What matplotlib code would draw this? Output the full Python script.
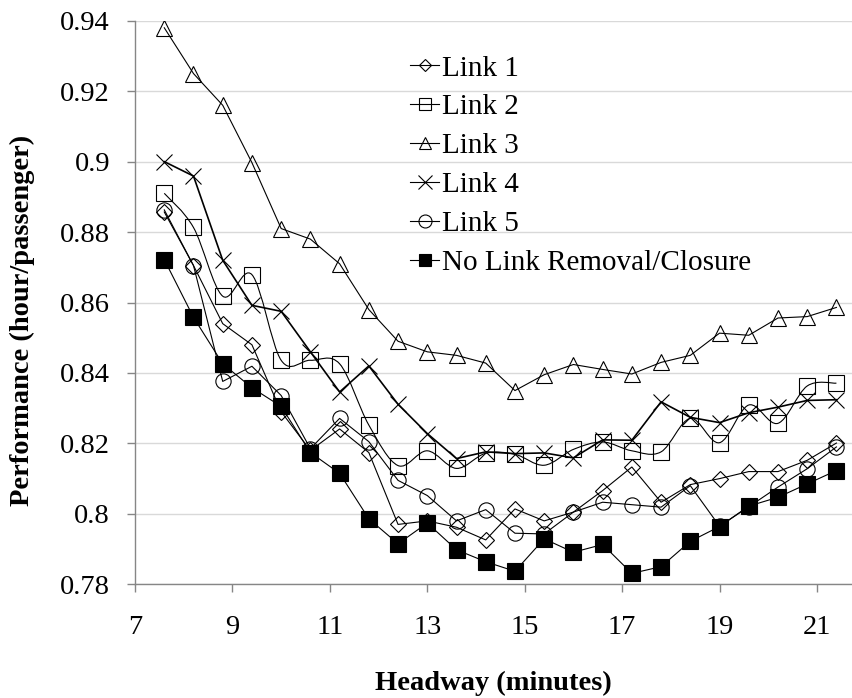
import matplotlib
matplotlib.use("Agg")
import matplotlib.pyplot as plt
from matplotlib.path import Path
from matplotlib.patches import PathPatch
from matplotlib.lines import Line2D

# headway (minutes)
headway = [7.6, 8.2, 8.8, 9.4, 10.0, 10.6, 11.2, 11.8, 12.4, 13.0, 13.6, 14.2,
           14.8, 15.4, 16.0, 16.6, 17.2, 17.8, 18.4, 19.0, 19.6, 20.2, 20.8, 21.4]

# performance (hour/passenger) for each scenario
link1 = [0.8857, 0.8705, 0.854, 0.848, 0.829, 0.818, 0.8241, 0.8174, 0.797, 0.798,
         0.7962, 0.7926, 0.8014, 0.798, 0.8005, 0.8066, 0.8133, 0.8033, 0.8083, 0.810,
         0.812, 0.812, 0.8152, 0.8201]
link2 = [0.891, 0.8813, 0.8618, 0.8679, 0.8436, 0.8436, 0.8426, 0.8252, 0.8137, 0.8179,
         0.8129, 0.8172, 0.8169, 0.8138, 0.8183, 0.8204, 0.8179, 0.8176, 0.8271, 0.8202,
         0.8309, 0.8257, 0.8363, 0.8371]
link3 = [0.938, 0.925, 0.916, 0.8997, 0.881, 0.878, 0.871, 0.858, 0.849, 0.846,
         0.845, 0.8428, 0.835, 0.8395, 0.8424, 0.841, 0.8397, 0.843, 0.845, 0.8513,
         0.8507, 0.8556, 0.856, 0.8586]
link4 = [0.900, 0.8959, 0.872, 0.8592, 0.8575, 0.846, 0.8346, 0.842, 0.8311, 0.8228,
         0.8157, 0.8176, 0.8171, 0.8173, 0.8159, 0.821, 0.8209, 0.8318, 0.8274, 0.8259,
         0.8287, 0.8303, 0.8322, 0.8324]
link5 = [0.8863, 0.8705, 0.8376, 0.8419, 0.8336, 0.8185, 0.8271, 0.8205, 0.8095, 0.8052,
         0.798, 0.8012, 0.7945, 0.7943, 0.8005, 0.8033, 0.8026, 0.8019, 0.808, 0.7965,
         0.802, 0.8076, 0.8128, 0.819]
no_removal = [0.8722, 0.8558, 0.8426, 0.8358, 0.8305, 0.8174, 0.8115, 0.7986, 0.7915, 0.7974,
              0.7898, 0.7864, 0.7837, 0.7929, 0.7891, 0.7913, 0.7831, 0.785, 0.7922, 0.7964,
              0.8022, 0.8047, 0.8085, 0.8123]

labels = ["Link 1", "Link 2", "Link 3", "Link 4", "Link 5", "No Link Removal/Closure"]
series = [link1, link2, link3, link4, link5, no_removal]

plt.rcParams["font.family"] = ["Liberation Serif", "DejaVu Serif"]

styles = [
    dict(marker="D", ms=7.7, mfc="none", smooth=False, lw=0.8),
    dict(marker="s", ms=11, mfc="none", smooth=True, lw=0.8),
    dict(marker="^", ms=11, mfc="none", smooth=False, lw=0.8),
    dict(marker="x", ms=12, mfc="none", smooth=False, lw=1.2),
    dict(marker="o", ms=11, mfc="none", smooth=False, lw=0.8),
    dict(marker="s", ms=11, mfc="black", smooth=False, lw=0.8),
]


def smooth_path(x, y):
    # cubic bezier through the points (Catmull-Rom style control points)
    verts = [(x[0], y[0])]
    codes = [Path.MOVETO]
    n = len(x)
    for i in range(n - 1):
        x0, y0 = (x[i - 1], y[i - 1]) if i > 0 else (x[i], y[i])
        x3, y3 = (x[i + 2], y[i + 2]) if i + 2 < n else (x[i + 1], y[i + 1])
        c1 = (x[i] + (x[i + 1] - x0) / 6, y[i] + (y[i + 1] - y0) / 6)
        c2 = (x[i + 1] - (x3 - x[i]) / 6, y[i + 1] - (y3 - y[i]) / 6)
        verts += [c1, c2, (x[i + 1], y[i + 1])]
        codes += [Path.CURVE4] * 3
    return Path(verts, codes)


fig = plt.figure(figsize=(8.52, 6.98), dpi=100)
ax = fig.add_axes([0.1585, 0.1629, 0.8415, 0.8074])

handles = []
for vals, lab, st in zip(series, labels, styles):
    if st["smooth"]:
        ax.add_patch(PathPatch(smooth_path(headway, vals), fill=False,
                               ec="black", lw=st["lw"], zorder=3))
        ls = "none"
    else:
        ls = "-"
    ax.plot(headway, vals, linestyle=ls, color="black", lw=st["lw"],
            marker=st["marker"], ms=st["ms"], mfc=st["mfc"], mec="black",
            mew=0.8, zorder=3)
    handles.append(Line2D([], [], color="black", lw=0.8, marker=st["marker"],
                          ms=st["ms"] * 0.85, mfc=st["mfc"], mec="black", mew=0.8,
                          label=lab))

ax.set_xlim(7, 21.72)
ax.set_ylim(0.78, 0.94)
ax.set_xticks([7, 9, 11, 13, 15, 17, 19, 21])
ax.set_yticks([0.78, 0.8, 0.82, 0.84, 0.86, 0.88, 0.9, 0.92, 0.94])
ax.set_yticklabels(["0.78", "0.8", "0.82", "0.84", "0.86", "0.88", "0.9", "0.92", "0.94"])

ax.grid(axis="y", color="#d9d9d9", lw=1.0)
ax.set_axisbelow(True)
for side in ["top", "right"]:
    ax.spines[side].set_visible(False)
for side in ["left", "bottom"]:
    ax.spines[side].set_color("#868686")
    ax.spines[side].set_linewidth(1.0)
ax.tick_params(axis="both", direction="out", length=6, width=1.0, color="#868686",
               labelsize=20.5)
ax.tick_params(axis="x", pad=16)
ax.tick_params(axis="y", pad=12)

ax.set_xlabel("Headway (minutes)", fontsize=20.5, fontweight="bold")
ax.set_ylabel("Performance (hour/passenger)", fontsize=20.5, fontweight="bold")
ax.xaxis.set_label_coords(0.5, -0.154)
ax.yaxis.set_label_coords(-0.14, 0.469)

ax.legend(handles=handles, loc="upper left", bbox_to_anchor=(0.3835, 0.939),
          frameon=False, fontsize=21, handlelength=1.0, handletextpad=0.1,
          labelspacing=0.43, borderpad=0, borderaxespad=0, numpoints=1)

fig.savefig("out.png", dpi=100)
